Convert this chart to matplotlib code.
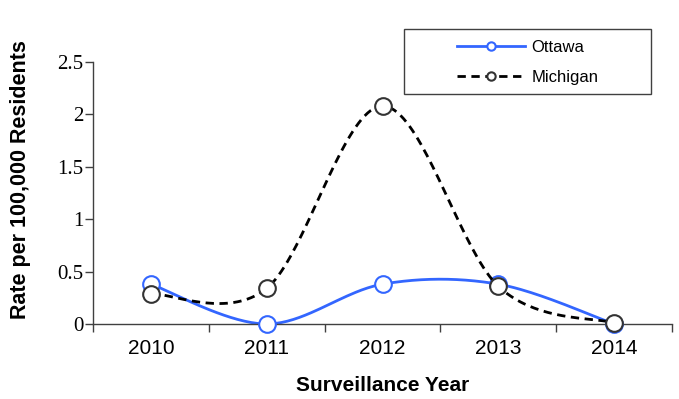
import numpy as np
import matplotlib
matplotlib.use("Agg")
import matplotlib.pyplot as plt
from matplotlib.patches import Rectangle

years = ["2010", "2011", "2012", "2013", "2014"]
ottawa = [0.38, 0.0, 0.38, 0.38, 0.0]
michigan = [0.29, 0.34, 2.08, 0.36, 0.01]
y_ticks = [0, 0.5, 1, 1.5, 2, 2.5]
y_tick_labels = ["0", "0.5", "1", "1.5", "2", "2.5"]


def smooth(xs, ys, n=40):
    # excel style smoothed line: bezier through the points
    pts = np.column_stack([xs, ys]).astype(float)
    out = []
    for i in range(len(pts) - 1):
        p0 = pts[i - 1] if i > 0 else pts[i]
        p1 = pts[i]
        p2 = pts[i + 1]
        p3 = pts[i + 2] if i + 2 < len(pts) else pts[i + 1]
        c1 = p1 + (p2 - p0) / 6
        c2 = p2 - (p3 - p1) / 6
        t = np.linspace(0, 1, n)[:, None]
        seg = (1 - t)**3 * p1 + 3 * (1 - t)**2 * t * c1 + 3 * (1 - t) * t**2 * c2 + t**3 * p2
        out.append(seg)
    out = np.vstack(out)
    return out[:, 0], out[:, 1]


W, H = 679, 399
fig = plt.figure(figsize=(W / 100, H / 100), dpi=100)
ax = fig.add_axes([93 / W, 75 / H, 579 / W, 262 / H])

x = np.arange(len(years))
blue = "#3366ff"
dark = "#333333"

sx, sy = smooth(x, ottawa)
ax.plot(sx, sy, color=blue, lw=2, clip_on=False, zorder=2)
ax.plot(x, ottawa, ls="none", marker="o", ms=12, mfc="white", mec=blue, mew=1.5,
        clip_on=False, zorder=3)
sx, sy = smooth(x, michigan)
ax.plot(sx, sy, color="black", lw=2, ls=(0, (3, 2)), clip_on=False, zorder=4)
ax.plot(x, michigan, ls="none", marker="o", ms=12, mfc="white", mec=dark, mew=1.5,
        clip_on=False, zorder=5)

# legend proxies
ax.plot([], [], color=blue, lw=2, marker="o", ms=6, mfc="white", mec=blue, mew=1.5, label="Ottawa")
ax.plot([], [], color="black", lw=2, ls=(0, (3, 2)), marker="o", ms=6, mfc="white", mec=dark,
        mew=1.5, label="Michigan")

ax.set_xlim(-0.5, 4.5)
ax.set_ylim(0, 2.5)
ax.set_xticks(x)
ax.set_xticklabels(years, fontsize=15, family="Liberation Sans")
ax.set_xticks(np.arange(-0.5, 5, 1), minor=True)
ax.tick_params(axis="x", which="major", length=0, pad=11)
ax.tick_params(axis="x", which="minor", length=6, width=1, color="#404040", direction="out")
ax.set_yticks(y_ticks)
ax.set_yticklabels(y_tick_labels, fontsize=15, family="Liberation Serif")
ax.tick_params(axis="y", length=6, width=1, color="#404040", direction="out", pad=1)

for s in ["top", "right"]:
    ax.spines[s].set_visible(False)
for s in ["left", "bottom"]:
    ax.spines[s].set_color("#404040")
    ax.spines[s].set_linewidth(1)

ax.set_xlabel("Surveillance Year", fontsize=15, fontweight="bold", family="Liberation Sans", labelpad=13)
ax.set_ylabel("Rate per 100,000 Residents", fontsize=15.5, fontweight="bold", family="Liberation Sans")
ax.yaxis.set_label_coords(-0.107, 0.553)

# legend box drawn separately, content centred in it
fig.patches.append(Rectangle((404 / W, 1 - 94 / H), 247 / W, 65 / H, transform=fig.transFigure,
                             facecolor="white", edgecolor="#404040", lw=1, zorder=1))
leg = fig.legend(loc="center", bbox_to_anchor=(527.5 / W, 1 - 62.5 / H), frameon=False,
                 prop={"family": "Liberation Sans", "size": 12}, handlelength=4.1,
                 handletextpad=0.4, labelspacing=0.9, borderpad=0)

fig.savefig("out.png", dpi=100)
